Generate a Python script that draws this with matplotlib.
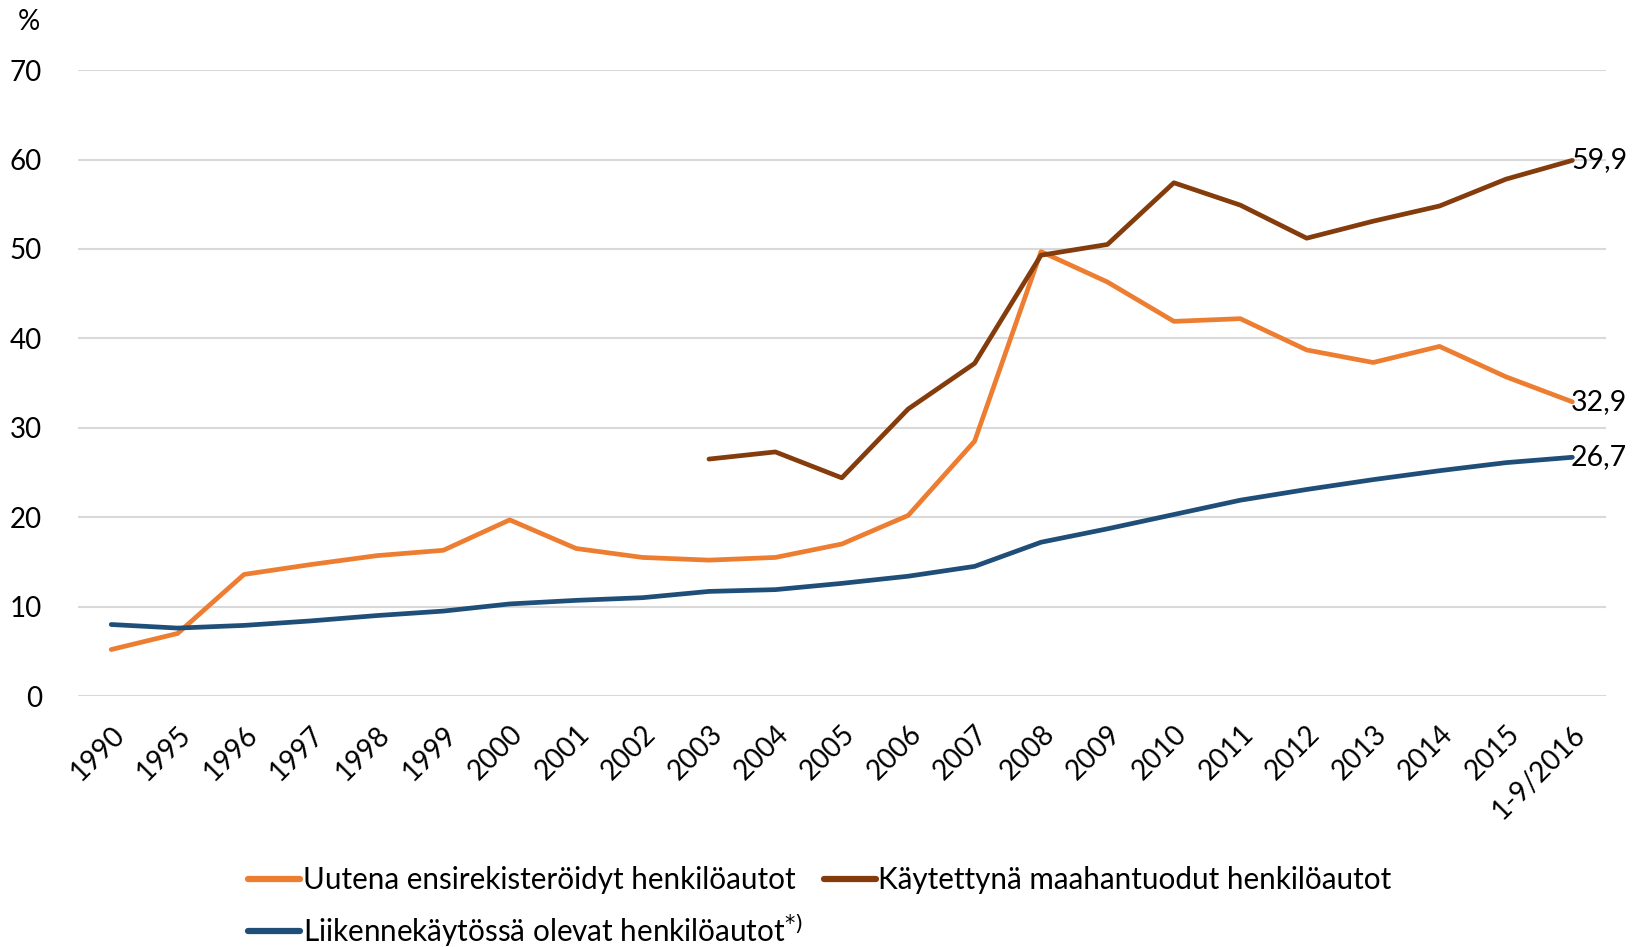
import numpy as np
import matplotlib.pyplot as plt

plt.rcParams['font.family'] = ['Lato', 'DejaVu Sans']

# data
years = ['1990', '1995', '1996', '1997', '1998', '1999', '2000', '2001', '2002',
         '2003', '2004', '2005', '2006', '2007', '2008', '2009', '2010', '2011',
         '2012', '2013', '2014', '2015', '1-9/2016']

uudet = [5.2, 7.0, 13.6, 14.7, 15.7, 16.3, 19.7, 16.5, 15.5, 15.2, 15.5, 17.0,
         20.2, 28.5, 49.7, 46.3, 41.9, 42.2, 38.7, 37.3, 39.1, 35.7, 32.9]

kaytetyt = [np.nan] * 9 + [26.5, 27.3, 24.4, 32.1, 37.2, 49.3, 50.5, 57.4, 54.9,
                           51.2, 53.1, 54.8, 57.8, 59.9]

liikenne = [8.0, 7.6, 7.9, 8.4, 9.0, 9.5, 10.3, 10.7, 11.0, 11.7, 11.9, 12.6,
            13.4, 14.5, 17.2, 18.7, 20.3, 21.9, 23.1, 24.2, 25.2, 26.1, 26.7]

labels = ['Uutena ensirekisteröidyt henkilöautot',
          'Käytettynä maahantuodut henkilöautot',
          'Liikennekäytössä olevat henkilöautot$^{*)}$']

c_orange = '#ED7D31'
c_brown = '#843C0C'
c_blue = '#1F4E79'

fig = plt.figure(figsize=(16.32, 9.47), dpi=100)
ax = fig.add_axes([0.0478, 0.265, 0.936, 0.661])

x = np.arange(len(years))
l1, = ax.plot(x, uudet, color=c_orange, lw=3.4, solid_capstyle='round', label=labels[0])
l2, = ax.plot(x, kaytetyt, color=c_brown, lw=3.4, solid_capstyle='round', label=labels[1])
l3, = ax.plot(x, liikenne, color=c_blue, lw=3.4, solid_capstyle='round', label=labels[2])

# end value labels
for series in (uudet, kaytetyt, liikenne):
    ax.text(x[-1] - 0.02, series[-1], ('%.1f' % series[-1]).replace('.', ','),
            ha='left', va='center', fontsize=20.5, clip_on=False)

ax.set_xlim(-0.5, len(years) - 0.5)
ax.set_ylim(0, 70)
ax.set_yticks(np.arange(0, 71, 10))
ax.set_xticks(x)
ax.set_xticklabels(years, rotation=45, ha='right', rotation_mode='anchor')
ax.tick_params(axis='y', length=0, pad=26, labelsize=20)
ax.tick_params(axis='x', length=0, pad=18, labelsize=20)
ax.grid(axis='y', color='#D9D9D9', lw=1.5)
ax.set_axisbelow(True)
for s in ax.spines.values():
    s.set_visible(False)

fig.text(0.011, 0.977, '%', fontsize=20, va='center', ha='left')

leg = fig.legend([l1, l3, l2], [labels[0], labels[2], labels[1]], ncol=2,
                 loc='upper left', bbox_to_anchor=(0.145, 0.098), frameon=False,
                 fontsize=21.3, handlelength=1.75, handletextpad=0.1,
                 columnspacing=0.7, labelspacing=0.6, borderaxespad=0)
for h in leg.get_lines():
    h.set_linewidth(4.5)

fig.savefig('out.png', dpi=100)
